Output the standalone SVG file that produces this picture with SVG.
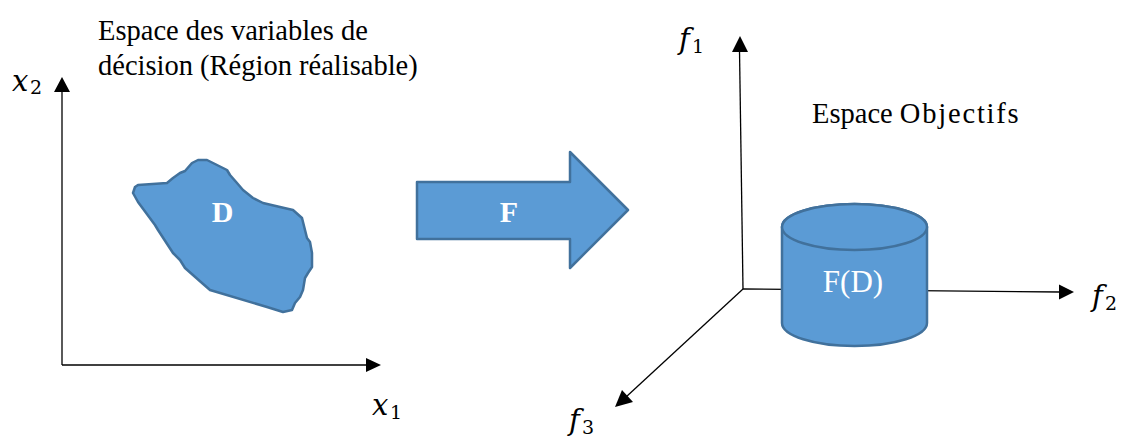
<svg xmlns="http://www.w3.org/2000/svg" width="1121" height="436" viewBox="0 0 1121 436">
<defs>
<style>
.ax{stroke:#000;stroke-width:1.3;fill:none}
.ah{fill:#000}
.shape{fill:#5B9BD5;stroke:#41719C;stroke-width:2.5;stroke-linejoin:round}
.t{font-family:"Liberation Serif","Times New Roman",serif;fill:#000}
.w{font-family:"Liberation Serif","Times New Roman",serif;fill:#fff}
.m{font-family:"DejaVu Serif",serif;font-style:italic;font-size:29px;fill:#000}
.s{font-family:"DejaVu Serif",serif;font-size:19px;fill:#000}
</style>
</defs>
<g id="connectors">
<line class="ax" x1="62" y1="365" x2="62" y2="90"/>
<polygon class="ah" points="62,77 54,92 70,92"/>
<line class="ax" x1="62" y1="365" x2="367" y2="365"/>
<polygon class="ah" points="381,365 366,358 366,372"/>
<line class="ax" x1="743" y1="289" x2="739.5" y2="50"/>
<polygon class="ah" points="740,36 732,52 748,52"/>
<line class="ax" x1="743" y1="289" x2="1060" y2="292"/>
<polygon class="ah" points="1074,292 1059,284.5 1059,299.5"/>
<line class="ax" x1="743" y1="289" x2="626" y2="397"/>
<polygon class="ah" points="615,407 622,390 633,402"/>
</g>
<g id="region-D">
<path class="shape" d="M135,187 L138,185 L167,183 L173,178 L180,173 L185,171 L192,163 L198,160 L207,160 L217,165 L227,170 L230,175 L237,183 L243,190 L253,198 L263,203 L280,207 L293,210 L302,218 L305,230 L307,238 L310,242 L312,253 L312,267 L308,273 L305,278 L303,290 L300,297 L295,303 L292,310 L283,312 L267,307 L210,290 L202,283 L185,268 L180,260 L173,253 L158,230 L155,225 L138,202 L133,193 Z"/>
<text class="w" x="222.5" y="222" font-size="30" font-weight="bold" text-anchor="middle">D</text>
</g>
<g id="arrow-F">
<polygon class="shape" points="417,182 570,182 570,152 628,210 570,268 570,239 417,239"/>
<text class="w" x="509" y="222" font-size="30" font-weight="bold" text-anchor="middle">F</text>
</g>
<g id="cylinder-FD">
<path class="shape" d="M782,227 L782,323 A72.5,23 0 0 0 927,323 L927,227 A72.5,23 0 0 0 782,227 Z"/>
<ellipse class="shape" cx="854.5" cy="227" rx="72.5" ry="23"/>
<text class="w" x="853" y="292" font-size="31" text-anchor="middle">F(D)</text>
</g>
<g id="label-decision">
<text class="t" font-size="28.5"><tspan x="98" y="40">Espace des variables de</tspan><tspan x="98" y="75">décision (Région réalisable)</tspan></text>
</g>
<g id="label-objectifs">
<text class="t" x="812" y="123" font-size="28.5">Espace <tspan letter-spacing="1.8">Objectifs</tspan></text>
</g>
<g id="axis-labels">
<text class="m" x="12" y="91">x</text><text class="s" x="30" y="94">2</text>
<text class="m" x="372" y="415">x</text><text class="s" x="390" y="419">1</text>
<text class="m" x="679" y="49">f</text><text class="s" x="692" y="53">1</text>
<text class="m" x="1092" y="306">f</text><text class="s" x="1105" y="310">2</text>
<text class="m" x="569" y="430">f</text><text class="s" x="582" y="434">3</text>
</g>
</svg>
